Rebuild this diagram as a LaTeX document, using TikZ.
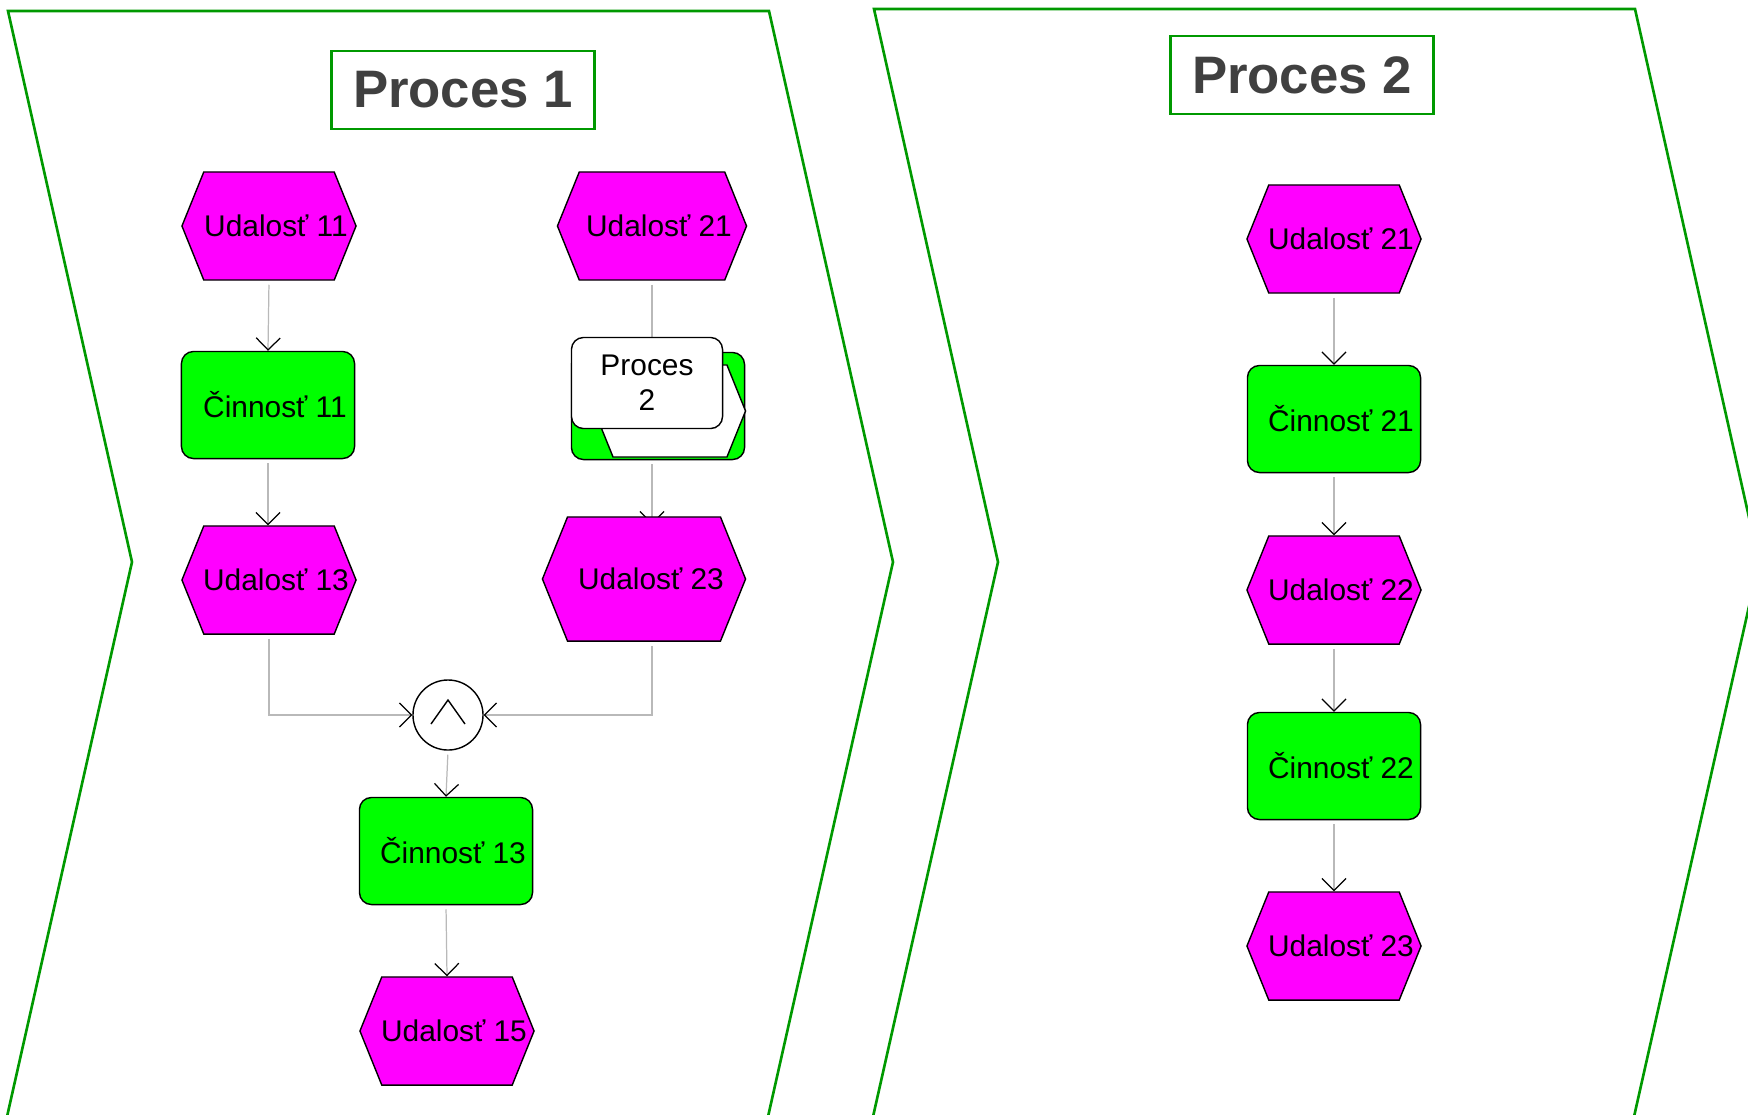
\documentclass[tikz,border=0pt]{standalone}
\usepackage{fontspec}
\setmainfont{Liberation Sans}
\usetikzlibrary{shapes.symbols,arrows.meta}

\definecolor{udalost}{HTML}{FF00FF}
\definecolor{cinnost}{HTML}{00FF00}
\definecolor{pas}{HTML}{009900}
\definecolor{nadpis}{HTML}{404040}

\pgfdeclarelayer{pozadie}
\pgfsetlayers{pozadie,main}

\begin{document}
\begin{tikzpicture}[x=0.01cm, y=-0.01cm]
    % styly
    \tikzset{
        udalost/.style={signal, signal to=west and east, signal pointer angle=136,
            draw=black, line width=0.4pt, fill=udalost, inner xsep=-0.25cm, inner ysep=0pt,
            minimum width=1.74cm, minimum height=1.08cm, font=\fontsize{8.5}{10}\selectfont,
            execute at begin node=\hspace*{0.14cm}},
        cinnost/.style={rectangle, rounded corners=0.12cm, draw=black, line width=0.4pt,
            fill=cinnost, inner sep=0pt, minimum width=1.73cm, minimum height=1.07cm,
            font=\fontsize{8.5}{10}\selectfont, execute at begin node=\hspace*{0.14cm}},
        rozhranie/.style={rectangle, rounded corners=0.12cm, draw=black, line width=0.4pt,
            fill=white, inner sep=0pt, minimum width=1.51cm, minimum height=0.91cm,
            align=center, font=\fontsize{8.5}{10}\selectfont},
        spojka/.style={circle, draw=black, line width=0.4pt, fill=white, inner sep=0pt, minimum size=0.7cm},
        nadpis/.style={rectangle, draw=pas, line width=0.8pt, minimum width=2.63cm, minimum height=0.78cm,
            text=nadpis, font=\fontsize{15}{18}\selectfont\bfseries},
        spoj/.style={draw=gray!55, line width=0.35pt, shorten <=0.04cm,
            -{Straight Barb[black, length=0.12cm, width=0.24cm, line width=0.35pt]}},
        pas/.style={draw=pas, line width=0.75pt},
    }

    \useasboundingbox (0,0) rectangle (1748,1114);
    \clip (0,0) rectangle (1748,1114);

    % pasy procesov
    \draw[pas] (8,11) -- (769,11) -- (893,562) -- (765,1130) -- (4,1130) -- (132,562) -- cycle;
    \draw[pas] (874,9) -- (1635,9) -- (1759,562) -- (1631,1130) -- (870,1130) -- (998,562) -- cycle;

    % nadpisy
    \node[nadpis] (t1) at (463,90) {Proces 1};
    \node[nadpis] (t2) at (1302,75) {Proces 2};

    % Proces 1
    \node[udalost] (u11) at (269,226) {Udalosť 11};
    \node[cinnost] (c11) at (268,405) {Činnosť 11};
    \node[udalost] (u13) at (269,580) {Udalosť 13};
    \node[spojka] (and) at (448,715) {};
    \draw[line width=0.4pt] ([shift={(-17,9)}]and.center) -- ([shift={(0,-15)}]and.center) -- ([shift={(17,9)}]and.center);
    \node[cinnost] (c13) at (446,851) {Činnosť 13};
    \node[udalost] (u15) at (447,1031) {Udalosť 15};

    \node[udalost, minimum width=1.89cm] (u21) at (652,226) {Udalosť 21};
    % procesne rozhranie
    \node[cinnost] (p2) at (658,406) {};
    \node[udalost, fill=white, minimum width=1.51cm, minimum height=0.92cm] (p2u) at (670,411) {};
    \node[rozhranie] (p2r) at (647,383) {Proces\\2};
    \node[udalost, minimum width=2.03cm, minimum height=1.24cm] (u23) at (644,579) {Udalosť 23};
    \coordinate (k23) at (u21.south |- u23.north);

    % Proces 2
    \node[udalost] (v21) at (1334,239) {Udalosť 21};
    \node[cinnost] (d21) at (1334,419) {Činnosť 21};
    \node[udalost] (v22) at (1334,590) {Udalosť 22};
    \node[cinnost] (d22) at (1334,766) {Činnosť 22};
    \node[udalost] (v23) at (1334,946) {Udalosť 23};

    % spojnice
    \begin{pgfonlayer}{pozadie}
        \draw[spoj] (u11.south) -- (c11.north);
        \draw[spoj] (c11.south) -- (c11.south |- u13.north);
        \draw[spoj] (u13.south) |- (and.west);
        \draw[spoj] (u23.south -| u21.south) |- (and.east);
        \draw[spoj] (and.south) -- (c13.north);
        \draw[spoj] (c13.south) -- (u15.north);
        \draw[spoj] (u21.south) -- (u21.south |- p2.north);
        \draw[spoj] (u21.south |- p2.south) -- ([yshift=-0.08cm]k23);
        \foreach \a/\b in {v21/d21, d21/v22, v22/d22, d22/v23} {
            \draw[spoj] (\a.south) -- (\b.north);
        }
    \end{pgfonlayer}
\end{tikzpicture}
\end{document}
